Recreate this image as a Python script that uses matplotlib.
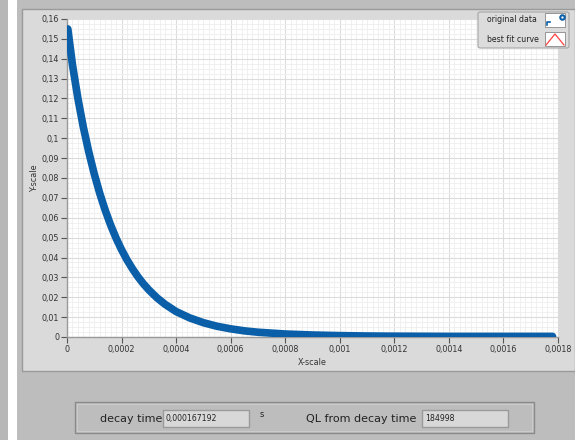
import matplotlib.pyplot as plt
from matplotlib.patches import Rectangle, FancyBboxPatch
from matplotlib.ticker import MultipleLocator, AutoMinorLocator, FuncFormatter

# decay trace (s, arb. units)
x_data = [0.000003, 0.00002, 0.00004, 0.00006, 0.00008, 0.0001, 0.00012, 0.00014,
          0.00016, 0.00018, 0.0002, 0.00022, 0.00024, 0.00026, 0.00028, 0.0003,
          0.00033, 0.00036, 0.0004, 0.00045, 0.0005, 0.00055, 0.0006, 0.00065,
          0.0007, 0.0008, 0.0009, 0.001, 0.0011, 0.0012, 0.0014, 0.0016, 0.00178]
y_data = [0.155, 0.137, 0.120, 0.1055, 0.0930, 0.0820, 0.0723, 0.0638,
          0.0563, 0.0497, 0.0439, 0.0388, 0.0343, 0.0303, 0.0268, 0.0237,
          0.0197, 0.0164, 0.0128, 0.0096, 0.0072, 0.0054, 0.0041, 0.0031,
          0.0024, 0.0015, 0.0010, 0.0007, 0.0005, 0.0004, 0.0003, 0.0003, 0.0003]

decay_time = "0,000167192"
ql_value = "184998"

W, H = 575, 440
fig = plt.figure(figsize=(W / 100, H / 100), dpi=100)
fig.patch.set_facecolor('#bdbdbd')


def box(x0, y0, x1, y1, zorder=0.5, **kw):
    # pixel box, origin at top-left
    r = Rectangle((x0 / W, 1 - y1 / H), (x1 - x0) / W, (y1 - y0) / H,
                  transform=fig.transFigure, zorder=zorder, **kw)
    fig.patches.append(r)
    return r


def text(x, y, s, **kw):
    fig.text(x / W, 1 - y / H, s, **kw)


# window background strips
box(0, 0, 8, H, facecolor='#b7b7b7', edgecolor='none')
box(8, 0, 17, H, facecolor='#ffffff', edgecolor='none')
box(17, 0, W, H, facecolor='#bdbdbd', edgecolor='none')
# graph frame
box(22, 9, 575, 371, facecolor='#dadada', edgecolor='#9a9a9a', linewidth=1.0)

ax = fig.add_axes([67 / W, 1 - 337 / H, 491 / W, 318 / H])
ax.set_zorder(2)
ax.set_facecolor('white')
ax.plot(x_data, y_data, color='#0a5fa8', linewidth=5.5, solid_capstyle='round',
        solid_joinstyle='round', zorder=3)

ax.set_xlim(0, 0.0018)
ax.set_ylim(0, 0.16)
ax.xaxis.set_major_locator(MultipleLocator(0.0002))
ax.yaxis.set_major_locator(MultipleLocator(0.01))
ax.xaxis.set_minor_locator(AutoMinorLocator(10))
ax.yaxis.set_minor_locator(AutoMinorLocator(4))

comma = FuncFormatter(lambda v, p: ('%g' % round(v, 6)).replace('.', ','))
ax.xaxis.set_major_formatter(comma)
ax.yaxis.set_major_formatter(comma)

ax.grid(which='major', color='#dcdcdc', linewidth=0.8)
ax.grid(which='minor', color='#eeeeee', linewidth=0.6)
ax.set_axisbelow(True)

for side in ['top', 'right']:
    ax.spines[side].set_visible(False)
for side in ['left', 'bottom']:
    ax.spines[side].set_color('#9a9a9a')
    ax.spines[side].set_linewidth(1.0)

ax.tick_params(which='major', direction='out', length=4, width=0.8, color='#555555',
               labelsize=5.8, labelcolor='#333333', pad=1.5)
ax.tick_params(which='minor', length=0)
ax.set_xlabel('X-scale', fontsize=5.8, color='#333333', labelpad=3)
ax.set_ylabel('Y-scale', fontsize=5.8, color='#333333', labelpad=2)

# legend
leg = FancyBboxPatch((478 / W, 1 - 48 / H), 91 / W, 36 / H,
                     boxstyle='round,pad=0,rounding_size=0.004',
                     transform=fig.transFigure, facecolor='#dcdcdc',
                     edgecolor='#a5a5a5', linewidth=0.8, zorder=5)
fig.patches.append(leg)
text(487, 20, 'original data', fontsize=5.6, color='#222222', va='center', zorder=6)
text(487, 39, 'best fit curve', fontsize=5.6, color='#222222', va='center', zorder=6)
box(545, 13, 565, 27, zorder=6, facecolor='white', edgecolor='#888888', linewidth=0.6)
box(545, 32, 565, 46, zorder=6, facecolor='white', edgecolor='#888888', linewidth=0.6)
fig.add_artist(plt.Line2D([562 / W], [1 - 17 / H], marker='o', markersize=3.2,
                          markerfacecolor='white', markeredgecolor='#0a5fa8',
                          markeredgewidth=1.5, transform=fig.transFigure, zorder=7))
fig.add_artist(plt.Line2D([547 / W, 547 / W, 550 / W], [1 - 25 / H, 1 - 22 / H, 1 - 22 / H],
                          color='#0a5fa8', linewidth=1.2, transform=fig.transFigure, zorder=7))
fig.add_artist(plt.Line2D([546 / W, 555 / W, 564 / W], [1 - 45 / H, 1 - 34 / H, 1 - 45 / H],
                          color='#ff4040', linewidth=0.9, transform=fig.transFigure, zorder=7))

# indicator panel
box(75, 402, 534, 433, facecolor='#bdbdbd', edgecolor='#8a8a8a', linewidth=1.0)
box(77, 404, 532, 431, facecolor='none', edgecolor='#d0d0d0', linewidth=0.6)
text(100, 419, 'decay time', fontsize=8, color='#222222', va='center')
box(163, 410, 249, 427, facecolor='#d8d8d8', edgecolor='#9a9a9a', linewidth=1.0)
text(166, 418, decay_time, fontsize=5.6, color='#222222', va='center')
text(260, 414, 's', fontsize=6, color='#222222', va='center')
text(306, 419, 'QL from decay time', fontsize=8, color='#222222', va='center')
box(422, 410, 508, 427, facecolor='#d8d8d8', edgecolor='#9a9a9a', linewidth=1.0)
text(425, 418, ql_value, fontsize=5.6, color='#222222', va='center')

fig.savefig('out.png', dpi=100, facecolor=fig.get_facecolor())
